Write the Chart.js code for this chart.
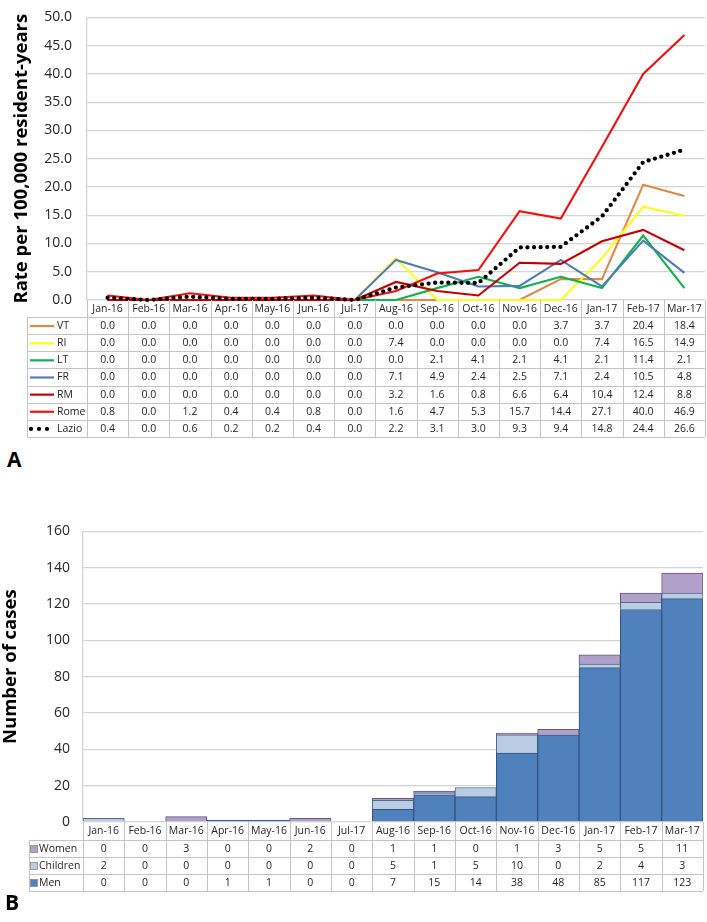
<!DOCTYPE html>
<html>
<head>
<meta charset="utf-8">
<script src="https://cdn.jsdelivr.net/npm/chart.js@4/dist/chart.umd.min.js"></script>
<style>
  html, body { margin: 0; padding: 0; background: #fff; }
  body { width: 707px; height: 922px; position: relative; overflow: hidden; font-family: "Open Sans", sans-serif; }
  .wrap { position: absolute; left: 0; width: 707px; }
  #wa { top: -6px; height: 446px; }
  #wb { top: 510px; height: 385px; }
  .panel { position: absolute; left: 7px; font: bold 21px "Open Sans", sans-serif; line-height: 21px; color: #000; }
</style>
</head>
<body>
<div class="wrap" id="wa"><canvas id="chartA" width="707" height="446"></canvas></div>
<div class="wrap" id="wb"><canvas id="chartB" width="707" height="385"></canvas></div>
<div class="panel" style="top:449px;">A</div>
<div class="panel" style="top:892px;left:5px;">B</div>
<script>
// ---------- DATA ----------
const categories = ["Jan-16","Feb-16","Mar-16","Apr-16","May-16","Jun-16","Jul-17","Aug-16","Sep-16","Oct-16","Nov-16","Dec-16","Jan-17","Feb-17","Mar-17"];

const VT    = [0.0,0.0,0.0,0.0,0.0,0.0,0.0,0.0,0.0,0.0,0.0,3.7,3.7,20.4,18.4];
const RI    = [0.0,0.0,0.0,0.0,0.0,0.0,0.0,7.4,0.0,0.0,0.0,0.0,7.4,16.5,14.9];
const LT    = [0.0,0.0,0.0,0.0,0.0,0.0,0.0,0.0,2.1,4.1,2.1,4.1,2.1,11.4,2.1];
const FR    = [0.0,0.0,0.0,0.0,0.0,0.0,0.0,7.1,4.9,2.4,2.5,7.1,2.4,10.5,4.8];
const RM    = [0.0,0.0,0.0,0.0,0.0,0.0,0.0,3.2,1.6,0.8,6.6,6.4,10.4,12.4,8.8];
const Rome  = [0.8,0.0,1.2,0.4,0.4,0.8,0.0,1.6,4.7,5.3,15.7,14.4,27.1,40.0,46.9];
const Lazio = [0.4,0.0,0.6,0.2,0.2,0.4,0.0,2.2,3.1,3.0,9.3,9.4,14.8,24.4,26.6];

const Women    = [0,0,3,0,0,2,0,1,1,0,1,3,5,5,11];
const Children = [2,0,0,0,0,0,0,5,1,5,10,0,2,4,3];
const Men      = [0,0,0,1,1,0,0,7,15,14,38,48,85,117,123];

const rateTicks  = [0,5,10,15,20,25,30,35,40,45,50];
const casesTicks = [0,20,40,60,80,100,120,140,160];

const rateTitle  = "Rate per 100,000 resident-years";
const casesTitle = "Number of cases";

// ---------- STYLE ----------
const FONT = '"Open Sans", sans-serif';
const GRID = '#d4d4d4';
const TBL  = '#c4c4c4';
const TXT  = '#262626';

function makeTable(cfg) {
  return {
    id: 'dataTable' + cfg.id,
    afterDraw(chart) {
      const {ctx, chartArea: ca, scales: {x}} = chart;
      const n = categories.length;
      const colW = (ca.right - ca.left) / n;
      const top = ca.bottom;
      const bodyTop = top + cfg.headerH;
      const bottom = bodyTop + cfg.rows.length * cfg.rowH;
      ctx.save();
      ctx.strokeStyle = TBL;
      ctx.lineWidth = 1;
      const line = (x1, y1, x2, y2) => { ctx.beginPath(); ctx.moveTo(x1, y1); ctx.lineTo(x2, y2); ctx.stroke(); };
      for (let i = 0; i <= n; i++) {
        const xx = Math.round(ca.left + i * colW) + 0.5;
        line(xx, top, xx, bottom);
      }
      line(cfg.legendLeft + 0.5, bodyTop, cfg.legendLeft + 0.5, bottom);
      for (let r = 0; r <= cfg.rows.length; r++) {
        const yy = Math.round(bodyTop + r * cfg.rowH) + 0.5;
        line(cfg.legendLeft, yy, ca.right, yy);
      }
      ctx.fillStyle = TXT;
      ctx.font = '10.5px ' + FONT;
      ctx.textAlign = 'center';
      ctx.textBaseline = 'middle';
      categories.forEach((c, i) => ctx.fillText(c, x.getPixelForValue(i), top + cfg.headerH / 2 + 0.5));
      cfg.rows.forEach((row, r) => {
        const cy = bodyTop + r * cfg.rowH + cfg.rowH / 2 + 0.5;
        ctx.save();
        if (row.key === 'line') {
          ctx.strokeStyle = row.color; ctx.lineWidth = 2.2;
          line(cfg.legendLeft + 3, cy, cfg.legendLeft + 27, cy);
        } else if (row.key === 'dots') {
          ctx.fillStyle = '#000';
          [3, 11, 19].forEach(dx => { ctx.beginPath(); ctx.arc(cfg.legendLeft + dx + 1, cy, 2.1, 0, Math.PI * 2); ctx.fill(); });
        } else if (row.key === 'square') {
          ctx.fillStyle = row.color; ctx.strokeStyle = '#8a8a8a'; ctx.lineWidth = 0.8;
          ctx.fillRect(cfg.legendLeft + 1.5, cy - 3.5, 7, 7);
          ctx.strokeRect(cfg.legendLeft + 1.5, cy - 3.5, 7, 7);
        }
        ctx.restore();
        ctx.textAlign = 'left';
        ctx.fillText(row.label, cfg.legendLeft + cfg.labelDx, cy);
        ctx.textAlign = 'center';
        row.values.forEach((v, i) => ctx.fillText(cfg.fmt(v), x.getPixelForValue(i), cy));
      });
      if (cfg.title) {
        ctx.save();
        ctx.fillStyle = '#000';
        ctx.font = 'bold 18.5px ' + FONT;
        ctx.textAlign = 'center';
        ctx.textBaseline = 'middle';
        ctx.translate(cfg.title.x, (ca.top + ca.bottom) / 2 + cfg.title.dy);
        ctx.rotate(-Math.PI / 2);
        ctx.fillText(cfg.title.text, 0, 0);
        ctx.restore();
      }
      ctx.restore();
    }
  };
}

// ---------- CHART A ----------
const seriesA = [
  {label: 'VT',    data: VT,    color: '#DC8A48', key: 'line'},
  {label: 'RI',    data: RI,    color: '#FFFF1A', key: 'line'},
  {label: 'LT',    data: LT,    color: '#12B04E', key: 'line'},
  {label: 'FR',    data: FR,    color: '#4F7CB4', key: 'line'},
  {label: 'RM',    data: RM,    color: '#C00000', key: 'line'},
  {label: 'Rome',  data: Rome,  color: '#F01010', key: 'line'},
  {label: 'Lazio', data: Lazio, color: '#000000', key: 'dots'}
];

new Chart(document.getElementById('chartA'), {
  type: 'line',
  data: {
    labels: categories,
    datasets: seriesA.map((s, i) => s.key === 'dots' ? {
      label: s.label, data: s.data, borderColor: '#000', borderWidth: 4.3,
      borderDash: [0, 6.6], borderCapStyle: 'round', pointRadius: 0, tension: 0,
      fill: false, order: 0, clip: 6
    } : {
      label: s.label, data: s.data, borderColor: s.color, borderWidth: 2.1,
      pointRadius: 0, tension: 0, fill: false, order: 10 - i, clip: 6
    })
  },
  options: {
    responsive: false,
    animation: false,
    events: [],
    layout: { padding: { top: 12, right: 2, bottom: 123, left: 0 } },
    plugins: { legend: { display: false }, tooltip: { enabled: false } },
    scales: {
      x: {
        offset: true,
        grid: { display: false },
        border: { display: false },
        ticks: { display: false },
        afterFit: s => { s.height = 17; }
      },
      y: {
        min: 0, max: 50,
        afterBuildTicks: s => { s.ticks = rateTicks.map(v => ({value: v})); },
        grid: { color: GRID, lineWidth: 1.3, drawTicks: false },
        border: { display: true, color: GRID, width: 1.3 },
        ticks: { padding: 15, color: TXT, font: { family: FONT, size: 14 }, callback: v => Number(v).toFixed(1) },
        title: { display: true, text: rateTitle, color: '#000', padding: { top: 11, bottom: 0 },
                 font: { family: FONT, size: 18.5, weight: 'bold' } },
        afterFit: s => { s.width = 87; }
      }
    }
  },
  plugins: [makeTable({
    id: 'A', headerH: 17, rowH: 17.14, legendLeft: 27, labelDx: 30,
    fmt: v => v.toFixed(1),
    rows: seriesA.map(s => ({label: s.label, values: s.data, color: s.color, key: s.key}))
  })]
});

// ---------- CHART B ----------
const seriesB = [
  {label: 'Women',    data: Women,    color: '#B1A0C9'},
  {label: 'Children', data: Children, color: '#B9CCE4'},
  {label: 'Men',      data: Men,      color: '#4F81BD'}
];

new Chart(document.getElementById('chartB'), {
  type: 'bar',
  data: {
    labels: categories,
    datasets: [
      {label: 'Men', data: Men, backgroundColor: '#4F81BD', borderColor: '#34527A', borderWidth: 1, stack: 's'},
      {label: 'Children', data: Children, backgroundColor: '#B9CCE4', borderColor: '#52698C', borderWidth: 1, stack: 's'},
      {label: 'Women', data: Women, backgroundColor: '#B1A0C9', borderColor: '#5F5A80', borderWidth: 1, stack: 's'}
    ]
  },
  options: {
    responsive: false,
    animation: false,
    events: [],
    layout: { padding: { top: 18, right: 4, bottom: 55, left: 0 } },
    plugins: { legend: { display: false }, tooltip: { enabled: false } },
    datasets: { bar: { barPercentage: 1, categoryPercentage: 1 } },
    scales: {
      x: {
        stacked: true,
        grid: { display: false },
        border: { display: false },
        ticks: { display: false },
        afterFit: s => { s.height = 18; }
      },
      y: {
        stacked: true,
        min: 0, max: 160,
        afterBuildTicks: s => { s.ticks = casesTicks.map(v => ({value: v})); },
        grid: { color: GRID, lineWidth: 1.3, drawTicks: false },
        border: { display: true, color: GRID, width: 1.3 },
        ticks: { padding: 13, color: TXT, font: { family: FONT, size: 14 } },
        title: { display: false, text: casesTitle },
        afterFit: s => { s.width = 83; }
      }
    }
  },
  plugins: [makeTable({
    id: 'B', headerH: 18, rowH: 17, legendLeft: 29, labelDx: 10,
    fmt: v => String(v),
    title: { text: casesTitle, x: 11, dy: -10 },
    rows: seriesB.map(s => ({label: s.label, values: s.data, color: s.color, key: 'square'}))
  })]
});
</script>
</body>
</html>
